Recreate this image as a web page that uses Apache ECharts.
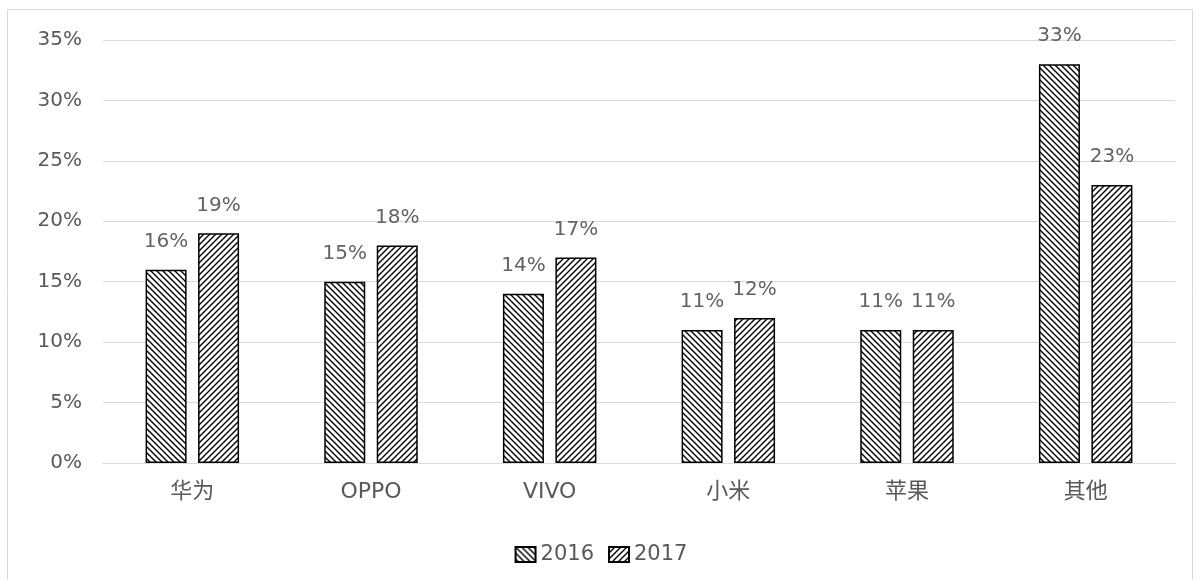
<!DOCTYPE html>
<html>
<head>
<meta charset="utf-8">
<script src="https://cdn.jsdelivr.net/npm/echarts@6/dist/echarts.min.js"></script>
<style>
  html, body { margin: 0; padding: 0; background: #fff; }
  #chart { width: 1202px; height: 580px; }
</style>
</head>
<body>
<div id="chart"></div>
<script>
const categories = ['华为', 'OPPO', 'VIVO', '小米', '苹果', '其他'];
const values2016 = [16, 15, 14, 11, 11, 33];
const values2017 = [19, 18, 17, 12, 11, 23];
const seriesNames = ['2016', '2017'];

// diagonal hatch tile, back = true gives "\\\" lines
function hatch(back) {
  const s = 6;
  const c = document.createElement('canvas');
  c.width = s;
  c.height = s;
  const ctx = c.getContext('2d');
  ctx.fillStyle = '#fff';
  ctx.fillRect(0, 0, s, s);
  ctx.strokeStyle = '#000';
  ctx.lineWidth = 1.4;
  ctx.beginPath();
  if (back) {
    ctx.moveTo(-1, -1); ctx.lineTo(s + 1, s + 1);
    ctx.moveTo(-1, s - 1); ctx.lineTo(1, s + 1);
    ctx.moveTo(s - 1, -1); ctx.lineTo(s + 1, 1);
  } else {
    ctx.moveTo(-1, s + 1); ctx.lineTo(s + 1, -1);
    ctx.moveTo(-1, 1); ctx.lineTo(1, -1);
    ctx.moveTo(s - 1, s + 1); ctx.lineTo(s + 1, s - 1);
  }
  ctx.stroke();
  return { image: c, repeat: 'repeat' };
}

const fontFamily = '"DejaVu Sans", "Noto Sans CJK SC", sans-serif';
const chart = echarts.init(document.getElementById('chart'));

function barSeries(name, data, back) {
  return {
    name: name,
    type: 'bar',
    data: data,
    barWidth: 41,
    barGap: '28%',
    itemStyle: {
      color: hatch(back),
      borderColor: '#000',
      borderWidth: 1.5
    },
    label: {
      show: true,
      position: 'top',
      distance: 18,
      formatter: '{c}%',
      color: '#636363',
      fontSize: 20,
      fontFamily: fontFamily
    }
  };
}

chart.setOption({
  backgroundColor: '#fff',
  animation: false,
  graphic: [{
    type: 'rect',
    shape: { x: 7.5, y: 9.5, width: 1185, height: 580 },
    style: { fill: 'none', stroke: '#d9d9d9', lineWidth: 1 },
    silent: true
  }],
  grid: { left: 103, right: 27, top: 40, bottom: 117 },
  legend: {
    top: 539,
    left: 'center',
    icon: 'rect',
    itemWidth: 20,
    itemHeight: 15,
    itemGap: 14,
    textStyle: { color: '#595959', fontSize: 21, fontFamily: fontFamily },
    data: seriesNames
  },
  xAxis: {
    type: 'category',
    data: categories,
    axisTick: { show: false },
    axisLine: { show: true, lineStyle: { color: '#d9d9d9', width: 1 } },
    axisLabel: { color: '#595959', fontSize: 22, margin: 18, fontFamily: fontFamily }
  },
  yAxis: {
    type: 'value',
    min: 0,
    max: 35,
    interval: 5,
    axisLine: { show: false },
    axisTick: { show: false },
    splitLine: { lineStyle: { color: '#d9d9d9', width: 1 } },
    axisLabel: { formatter: '{value}%', color: '#595959', fontSize: 20, margin: 21, fontFamily: fontFamily }
  },
  series: [
    barSeries(seriesNames[0], values2016, true),
    barSeries(seriesNames[1], values2017, false)
  ]
});
</script>
</body>
</html>
